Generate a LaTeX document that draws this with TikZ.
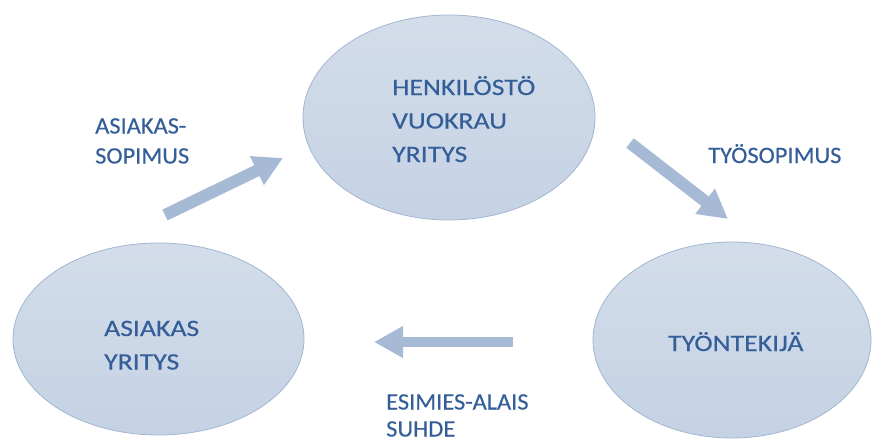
\documentclass[tikz,border=0pt]{standalone}
\usepackage{fontspec}
\newfontfamily\ellfont[FakeStretch=1.18,FakeBold=0.3]{Carlito}
\newfontfamily\lblfont[FakeStretch=1.04,FakeBold=0.3]{Carlito}
\usetikzlibrary{arrows.meta,shapes.geometric}
\definecolor{txtblue}{RGB}{52,94,152}
\definecolor{elltop}{RGB}{211,221,234}
\definecolor{ellbot}{RGB}{197,210,228}
\definecolor{ellline}{RGB}{163,182,209}
\definecolor{arrowblue}{RGB}{166,185,213}
\tikzset{
  bubble/.style={ellipse, draw=ellline, line width=0.8pt, top color=elltop, bottom color=ellbot, inner sep=0pt},
  elltext/.style={anchor=base west, inner sep=0pt, align=left, text=txtblue, font=\ellfont\fontsize{23.5}{33.5}\selectfont},
  lbltext/.style={anchor=base west, inner sep=0pt, align=left, text=txtblue, font=\lblfont\fontsize{23.5}{30}\selectfont},
  blockarrow/.style={draw=arrowblue, -{Triangle[length=29pt,width=30pt]}, arrowblue}
}
\begin{document}
\begin{tikzpicture}[x=1pt,y=-1pt]
\useasboundingbox (0,0) rectangle (872,441);
% ellipses
\node[bubble, minimum width=292pt, minimum height=205pt] (vuokra) at (449,117.5) {};
\node[bubble, minimum width=291pt, minimum height=192pt] (asiakas) at (158.5,339) {};
\node[bubble, minimum width=278pt, minimum height=196pt] (tyontekija) at (732,340) {};
% texts inside (base = baseline of last line)
\node[elltext] (tvuokra) at (392,162) {HENKILÖSTÖ\\VUOKRAU\\YRITYS};
\node[elltext] (tasiakas) at (104,369.5) {ASIAKAS\\YRITYS};
\node[elltext] (ttyontekija) at (668,351) {TYÖNTEKIJÄ};
% labels
\node[lbltext] (lsopimus) at (95,163.5) {ASIAKAS-\\SOPIMUS};
\node[lbltext] (ltyosopimus) at (708,163) {TYÖSOPIMUS};
\node[lbltext, font=\lblfont\fontsize{23.5}{27}\selectfont] (lesimies) at (386,436.5) {ESIMIES-ALAIS\\SUHDE};
% arrows
\coordinate (a1s) at (165,215);
\coordinate (a1e) at (283,158);
\coordinate (a2s) at (630,143);
\coordinate (a2e) at (728,219);
\coordinate (a3s) at (513,342);
\coordinate (a3e) at (374,342);
\draw[blockarrow, line width=12pt] (a1s) -- (a1e);
\draw[blockarrow, line width=12pt] (a2s) -- (a2e);
\draw[blockarrow, line width=10pt] (a3s) -- (a3e);
\end{tikzpicture}
\end{document}
